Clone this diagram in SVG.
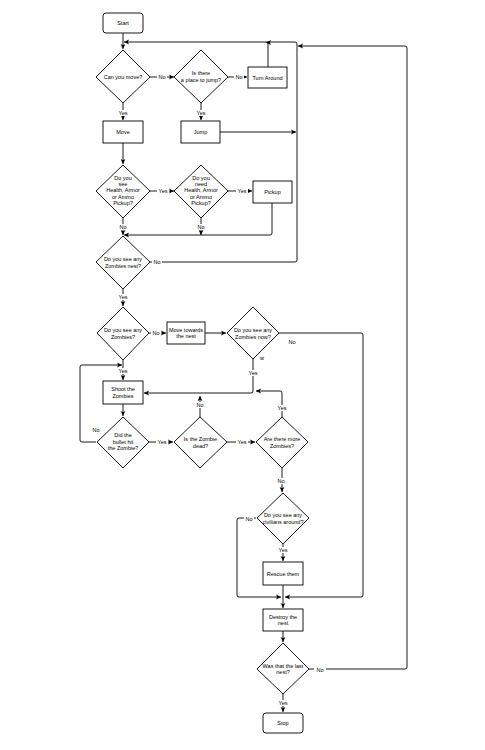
<svg xmlns="http://www.w3.org/2000/svg" width="485" height="750" viewBox="0 0 485 750">
<style>
.n{fill:#fff;stroke:#000;stroke-width:0.9}
.t{font-family:"Liberation Sans",Arial,sans-serif;font-size:5.5px;text-anchor:middle;fill:#000}
.c{fill:none;stroke:#000;stroke-width:0.9}
.l{font-family:"Liberation Sans",Arial,sans-serif;font-size:5.5px;text-anchor:middle;fill:#000}
.lb{fill:#fff}
</style>
<defs>
<marker id="a" markerUnits="userSpaceOnUse" markerWidth="6" markerHeight="6" viewBox="0 0 6 6" refX="5" refY="3" orient="auto">
<path d="M0,0.6 L5,3 L0,5.4 L1.2,3 Z" fill="#000"/>
</marker>
</defs>
<rect width="485" height="750" fill="#fff"/>
<g id="connectors">
<path class="c" d="M123,33 V49" marker-end="url(#a)"/>
<path class="c" d="M150,262 H295 Q297,262 297,260 V44 Q297,42 295,42 H124" marker-end="url(#a)"/>
<path class="c" d="M268,67 V42.5 H266" marker-end="url(#a)"/>
<path class="c" d="M309,669 H405 Q407,669 407,667 V48 Q407,46 405,46 H298" marker-end="url(#a)"/>
<path class="c" d="M220,132 H296" marker-end="url(#a)"/>
<path class="c" d="M150,77 H174" marker-end="url(#a)"/>
<path class="c" d="M227,77 H247" marker-end="url(#a)"/>
<path class="c" d="M123,103 V120" marker-end="url(#a)"/>
<path class="c" d="M201,103 V120" marker-end="url(#a)"/>
<path class="c" d="M123,143 V164" marker-end="url(#a)"/>
<path class="c" d="M150,191 H174" marker-end="url(#a)"/>
<path class="c" d="M227,191 H252" marker-end="url(#a)"/>
<path class="c" d="M123,218 V235" marker-end="url(#a)"/>
<path class="c" d="M201,218 V235" marker-end="url(#a)"/>
<path class="c" d="M272,203 V233 Q272,235 270,235 H124" marker-end="url(#a)"/>
<path class="c" d="M123,289 V306" marker-end="url(#a)"/>
<path class="c" d="M149,333 H166" marker-end="url(#a)"/>
<path class="c" d="M205,333 H226" marker-end="url(#a)"/>
<path class="c" d="M279,333 H361 Q363,333 363,335 V595 Q363,597 361,597 H285" marker-end="url(#a)"/>
<path class="c" d="M253,359 V391 Q253,393 251,393 H144" marker-end="url(#a)"/>
<path class="c" d="M123,360 V380" marker-end="url(#a)"/>
<path class="c" d="M123,404 V416" marker-end="url(#a)"/>
<path class="c" d="M149,442 H173" marker-end="url(#a)"/>
<path class="c" d="M200,417 V396" marker-end="url(#a)"/>
<path class="c" d="M227,442 H255" marker-end="url(#a)"/>
<path class="c" d="M282,417 V393 Q282,391 280,391 H256" marker-end="url(#a)"/>
<path class="c" d="M282,468 V492" marker-end="url(#a)"/>
<path class="c" d="M96,442 H82 Q80,442 80,440 V367 Q80,365 82,365 H122" marker-end="url(#a)"/>
<path class="c" d="M256,518 H239 Q237,518 237,520 V595 Q237,597 239,597 H281" marker-end="url(#a)"/>
<path class="c" d="M283,544 V561" marker-end="url(#a)"/>
<path class="c" d="M283,585 V608" marker-end="url(#a)"/>
<path class="c" d="M283,631 V642" marker-end="url(#a)"/>
<path class="c" d="M283,694 V712" marker-end="url(#a)"/>
<g id="labels">
<rect class="lb" x="157" y="74" width="10" height="6"/><text class="l" x="162" y="79">No</text>
<rect class="lb" x="234" y="74" width="10" height="6"/><text class="l" x="239" y="79">No</text>
<rect class="lb" x="117" y="110" width="12" height="6"/><text class="l" x="123" y="115">Yes</text>
<rect class="lb" x="195" y="110" width="12" height="6"/><text class="l" x="201" y="115">Yes</text>
<rect class="lb" x="157" y="188" width="12" height="6"/><text class="l" x="163" y="193">Yes</text>
<rect class="lb" x="236" y="188" width="12" height="6"/><text class="l" x="242" y="193">Yes</text>
<rect class="lb" x="118" y="224" width="10" height="6"/><text class="l" x="123" y="229">No</text>
<rect class="lb" x="196" y="224" width="10" height="6"/><text class="l" x="201" y="229">No</text>
<rect class="lb" x="152" y="259" width="10" height="6"/><text class="l" x="157" y="264">No</text>
<rect class="lb" x="117" y="294" width="12" height="6"/><text class="l" x="123" y="299">Yes</text>
<rect class="lb" x="151" y="330" width="10" height="6"/><text class="l" x="156" y="335">No</text>
<text class="l" x="292" y="344">No</text>
<text class="l" x="262" y="360">w</text>
<rect class="lb" x="247" y="370" width="12" height="6"/><text class="l" x="253" y="375">Yes</text>
<rect class="lb" x="117" y="368" width="12" height="6"/><text class="l" x="123" y="373">Yes</text>
<rect class="lb" x="195" y="402" width="10" height="6"/><text class="l" x="200" y="407">No</text>
<rect class="lb" x="276" y="405" width="12" height="6"/><text class="l" x="282" y="410">Yes</text>
<text class="l" x="96" y="432">No</text>
<rect class="lb" x="156" y="439" width="12" height="6"/><text class="l" x="162" y="444">Yes</text>
<rect class="lb" x="236" y="439" width="12" height="6"/><text class="l" x="242" y="444">Yes</text>
<rect class="lb" x="276" y="478" width="10" height="6"/><text class="l" x="281" y="483">No</text>
<rect class="lb" x="244" y="516" width="10" height="6"/><text class="l" x="249" y="521">No</text>
<rect class="lb" x="277" y="547" width="12" height="6"/><text class="l" x="283" y="552">Yes</text>
<rect class="lb" x="314" y="667" width="12" height="6"/><text class="l" x="320" y="672">No</text>
<rect class="lb" x="277" y="700" width="12" height="6"/><text class="l" x="283" y="705">Yes</text>
</g>
</g>
<g id="start"><rect class="n" x="103" y="13" width="40" height="20" rx="3"/><text class="t" x="123" y="25">Start</text></g>
<g id="canmove"><path class="n" d="M123,50 L150,77 L123,103 L96,77 Z"/><text class="t" x="123" y="79">Can you move?</text></g>
<g id="jumpq"><path class="n" d="M201,50 L228,77 L201,103 L174,77 Z"/><text class="t" x="201" y="75">Is there</text><text class="t" x="201" y="81.5">a place to jump?</text></g>
<g id="turn"><rect class="n" x="248" y="67" width="39" height="21"/><text class="t" x="267.5" y="79.5">Turn Around</text></g>
<g id="move"><rect class="n" x="103" y="121" width="40" height="22"/><text class="t" x="123" y="134">Move</text></g>
<g id="jump"><rect class="n" x="181" y="121" width="39" height="22"/><text class="t" x="200.5" y="134">Jump</text></g>
<g id="seepick"><path class="n" d="M123,165 L150,191 L123,218 L96,191 Z"/><text class="t" x="123" y="180">Do you</text><text class="t" x="123" y="186">see</text><text class="t" x="123" y="192.3">Health, Armor</text><text class="t" x="123" y="198.6">or Ammo</text><text class="t" x="123" y="204.9">Pickup?</text></g>
<g id="needpick"><path class="n" d="M201,165 L228,191 L201,218 L174,191 Z"/><text class="t" x="201" y="180">Do you</text><text class="t" x="201" y="186">need</text><text class="t" x="201" y="192.3">Health, Armor</text><text class="t" x="201" y="198.6">or Ammo</text><text class="t" x="201" y="204.9">Pickup?</text></g>
<g id="pickup"><rect class="n" x="253" y="181" width="39" height="22"/><text class="t" x="272.5" y="194">Pickup</text></g>
<g id="nest"><path class="n" d="M123,236 L150,262 L123,289 L96,262 Z"/><text class="t" x="123" y="261">Do you see any</text><text class="t" x="123" y="267.5">Zombies nest?</text></g>
<g id="zombies"><path class="n" d="M123,307 L149,333 L123,360 L97,333 Z"/><text class="t" x="123" y="332">Do you see any</text><text class="t" x="123" y="338.5">Zombies?</text></g>
<g id="towards"><rect class="n" x="167" y="322" width="38" height="22"/><text class="t" x="186" y="331.5">Move towards</text><text class="t" x="186" y="338">the nest</text></g>
<g id="zombiesnow"><path class="n" d="M253,307 L279,333 L253,359 L227,333 Z"/><text class="t" x="253" y="332">Do you see any</text><text class="t" x="253" y="338.5">Zombies now?</text></g>
<g id="shoot"><rect class="n" x="103" y="381" width="40" height="23"/><text class="t" x="123" y="391">Shoot the</text><text class="t" x="123" y="397.5">Zombies</text></g>
<g id="hit"><path class="n" d="M123,417 L149,442 L123,468 L97,442 Z"/><text class="t" x="123" y="437">Did the</text><text class="t" x="123" y="443.5">bullet hit</text><text class="t" x="123" y="450">the Zombie?</text></g>
<g id="dead"><path class="n" d="M200,417 L227,442 L200,468 L174,442 Z"/><text class="t" x="200.5" y="441">Is the Zombie</text><text class="t" x="200.5" y="447.5">dead?</text></g>
<g id="more"><path class="n" d="M282,417 L308,442 L282,468 L256,442 Z"/><text class="t" x="282" y="441">Are there more</text><text class="t" x="282" y="447.5">Zombies?</text></g>
<g id="civilians"><path class="n" d="M283,493 L309,518 L283,544 L257,518 Z"/><text class="t" x="283" y="517">Do you see any</text><text class="t" x="283" y="523.5">civilians around?</text></g>
<g id="rescue"><rect class="n" x="263" y="562" width="40" height="23"/><text class="t" x="283" y="575.5">Rescue them</text></g>
<g id="destroy"><rect class="n" x="263" y="609" width="40" height="22"/><text class="t" x="283" y="618.5">Destroy the</text><text class="t" x="283" y="625">nest</text></g>
<g id="lastnest"><path class="n" d="M283,643 L309,669 L283,694 L257,669 Z"/><text class="t" x="283" y="667.5">Was that the last</text><text class="t" x="283" y="674">nest?</text></g>
<g id="stop"><rect class="n" x="263" y="713" width="40" height="20" rx="3"/><text class="t" x="283" y="725">Stop</text></g>
</svg>
